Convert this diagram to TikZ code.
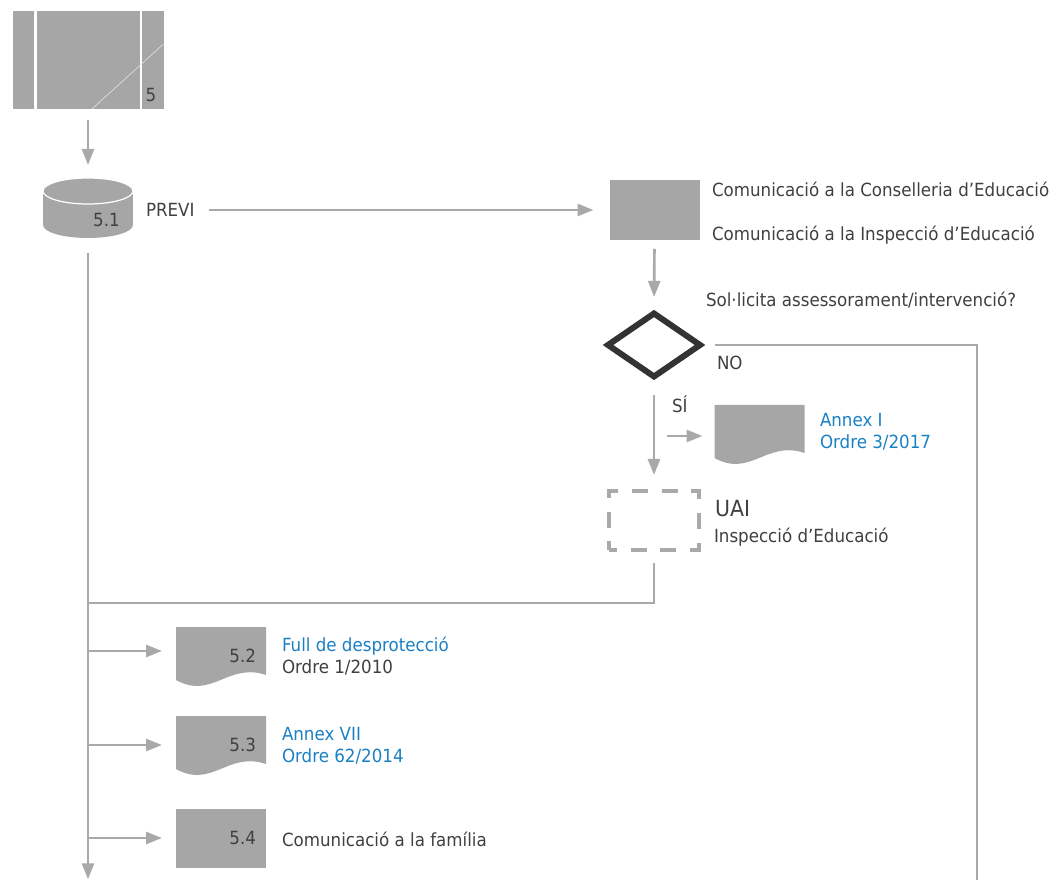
\documentclass[tikz,border=0pt]{standalone}
\usepackage{fontspec}
\setmainfont{DejaVu Sans}[FakeStretch=0.92]
\usetikzlibrary{arrows.meta,positioning,backgrounds}
\definecolor{grisfyll}{HTML}{A6A6A6}
\definecolor{grislinje}{HTML}{A9A9A9}
\definecolor{tekstgraa}{HTML}{404040}
\definecolor{blaatekst}{HTML}{1A80C4}
\definecolor{mork}{HTML}{333333}
\tikzset{ >={Triangle[length=12pt,width=9pt]},
  every node/.append style={text=tekstgraa},
  boks/.style={ rectangle, fill=grisfyll, minimum width=67.5pt, minimum height=45pt, inner xsep=7.5pt, inner ysep=0pt, outer sep=0pt, text width=52.5pt, align=right},
  dok/.style={ rectangle, minimum width=67.5pt, minimum height=43.5pt, inner xsep=7.5pt, inner ysep=0pt, outer sep=0pt, text width=52.5pt, align=right},
  tekst/.style={ inner sep=0pt, outer sep=0pt, anchor=base west},
  blaa/.style={ tekst, text=blaatekst},
  linje/.style={ draw=grislinje, line width=2pt},
  pil/.style={ linje, ->}}

\begin{document}
\begin{tikzpicture}[x=0.75pt, y=-0.75pt, font=\fontsize{13.6}{16.5}\selectfont]
    \useasboundingbox (0,0) rectangle (1057,880);
    %nodes
    \node[boks, minimum width=113.25pt, minimum height=73.5pt] (p5) at (88,60) {};
    \draw[white, line width=2.2pt] ([shift={(-52.5,0)}]p5.north) -- ([shift={(-52.5,0)}]p5.south);
    \draw[white, line width=2.2pt] ([shift={(53,0)}]p5.north) -- ([shift={(53,0)}]p5.south);
    \draw[white!75!grisfyll, line width=0.4pt] ([shift={(4,0)}]p5.south) -- ([shift={(0,33)}]p5.north east);
    \node[tekst, anchor=base] (n5) at (151,102) {5};

    \node[minimum width=67.5pt, minimum height=45pt, inner sep=0pt, outer sep=0pt] (c51) at (88,208) {};
    \node[tekst, anchor=base] (n51) at (106.5,227) {5.1};
    \node[tekst] (previ) at (146,217) {PREVI};

    \node[boks] (kom) at (654.5,210) {};
    \node[tekst] (kom1) at (712,197) {Comunicació a la Conselleria d’Educació};
    \node[tekst] (kom2) at (712,240.5) {Comunicació a la Inspecció d’Educació};

    \node[minimum width=69pt, minimum height=47.25pt, inner sep=0pt, outer sep=0pt] (valg) at (654,345) {};
    \draw[mork, line width=4.5pt] (valg.north) -- (valg.east) -- (valg.south) -- (valg.west) -- cycle;
    \node[tekst] (sporsmal) at (706,307) {Sol·licita assessorament/intervenció?};
    \node[tekst] (nei) at (717,370) {NO};
    \node[tekst] (ja) at (672,413) {SÍ};

    \node[dok] (annex) at (759.5,434) {};
    \node[blaa] (annexI) at (820,427) {Annex I};
    \node[blaa] (ordre3) at (820,449) {Ordre 3/2017};

    \node[rectangle, draw=grislinje, line width=3pt, dash pattern=on 12pt off 10.3pt, dash phase=6pt,
      minimum width=67.5pt, minimum height=44.25pt, inner sep=0pt, outer sep=0pt] (uai) at (654,520.5) {};
    \node[tekst, font=\fontsize{16.7}{20}\selectfont] (uaitxt) at (715,517) {UAI};
    \node[tekst] (inspeccio) at (714,542) {Inspecció d’Educació};

    \node[dok] (d52) at (221,656) {5.2};
    \node[blaa] (full) at (282,651) {Full de desprotecció};
    \node[tekst] (ordre1) at (282,673) {Ordre 1/2010};
    \node[dok] (d53) at (221,745) {5.3};
    \node[blaa] (annexVII) at (282,740) {Annex VII};
    \node[blaa] (ordre62) at (282,762) {Ordre 62/2014};
    \node[boks, minimum height=44.25pt] (d54) at (221,838.5) {5.4};
    \node[tekst] (familia) at (282,846.5) {Comunicació a la família};

    % shapes under the text
    \begin{scope}[on background layer]
      \fill[grisfyll] ([shift={(-45,13)}]c51.north) rectangle ([shift={(45,-13)}]c51.south);
      \fill[grisfyll] ([shift={(0,-13)}]c51.south) ellipse (45 and 13);
      \fill[grisfyll] ([shift={(0,13)}]c51.north) ellipse (45 and 13);
      \draw[white, line width=0.9pt] ([shift={(0,13)}]c51.north) ellipse (45 and 13);
      \foreach \doku in {annex,d52,d53}
        \fill[grisfyll] (\doku.north west) -- (\doku.north east) -- ([shift={(0,-10)}]\doku.south east)
          .. controls ([shift={(-38,-23)}]\doku.south east) and ([shift={(-54,15)}]\doku.south east)
          .. ([shift={(-90,-5)}]\doku.south east) -- cycle;
    \end{scope}

    % connectors
    \coordinate (sifra) at (667,436);
    \coordinate (noslutt) at (977,880);
    \coordinate (samle) at (88,603);
    \coordinate (slutt) at (88,880);
    \coordinate (g52) at (88,651);
    \coordinate (g53) at (88,745);
    \coordinate (g54) at (88,838);
    \draw[pil, shorten <=8.25pt, shorten >=9.75pt] (p5.south) -- (c51.north);
    \draw[pil, shorten <=11.25pt, shorten >=0.5pt] (c51.south) -- (slutt);
    \draw[pil, shorten <=10.5pt, shorten >=12pt] (previ.east |- kom.west) -- (kom.west);
    \draw[pil, shorten <=6.75pt, shorten >=12.4pt] (kom.south) -- (valg.north);
    \draw[pil, shorten <=13.9pt, shorten >=12pt] (valg.south) -- (uai.north);
    \draw[linje, shorten <=11.25pt] (valg.east) -| (noslutt);
    \draw[pil, shorten >=9pt] (sifra) -- (sifra -| annex.west);
    \draw[linje, shorten <=9.75pt] (uai.south) |- (samle);
    \foreach \g/\m in {g52/d52, g53/d53, g54/d54}
      \draw[pil, shorten >=10.5pt] (\g) -- (\g -| \m.west);
\end{tikzpicture}
\end{document}
